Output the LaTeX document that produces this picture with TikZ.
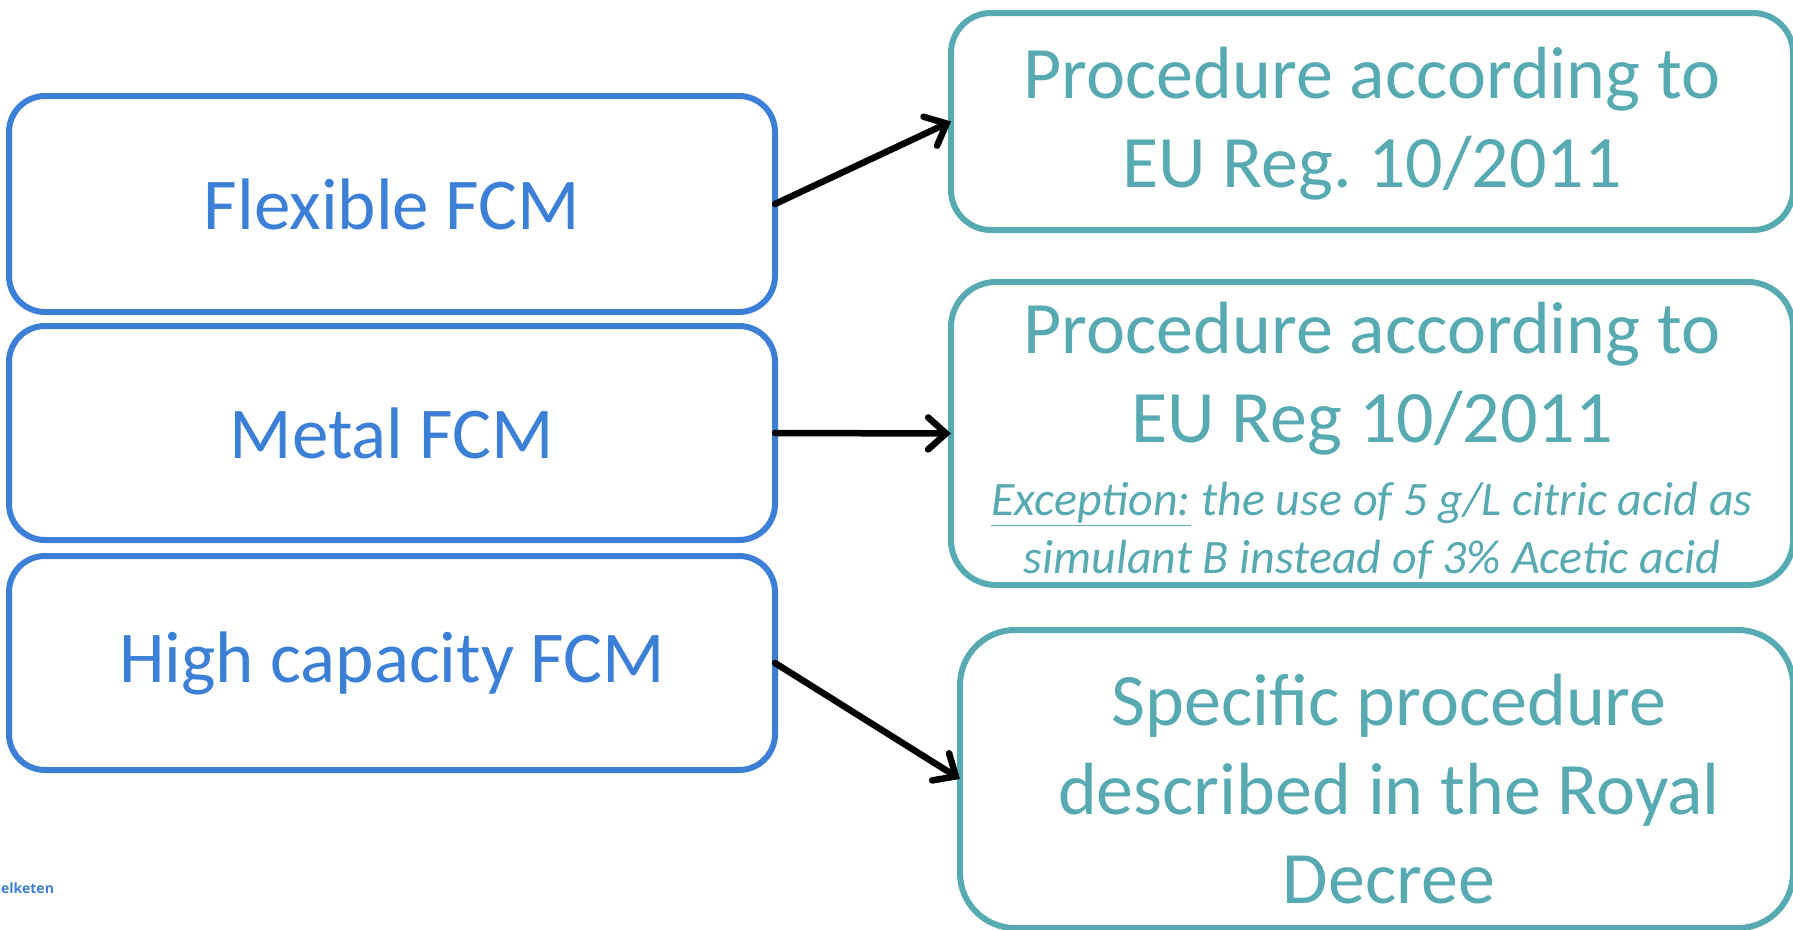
\documentclass[tikz,border=0pt]{standalone}
\usepackage{fontspec}
\setmainfont{Carlito}
\newfontfamily\logofont{Open Sans}
\usetikzlibrary{arrows.meta}
\definecolor{lblue}{RGB}{59,127,214}
\definecolor{tealc}{RGB}{87,170,178}
\frenchspacing
\begin{document}
\begin{tikzpicture}[x=1pt,y=-1pt,
  lbox/.style={draw=lblue, line width=6pt, rounded corners=36pt, text=lblue, align=center,
    inner sep=0pt, outer sep=0pt, minimum width=766pt,
    font=\fontsize{73}{89}\selectfont},
  rbox/.style={draw=tealc, line width=6pt, inner sep=0pt, outer sep=0pt},
  rtext/.style={text=tealc, align=center, inner sep=0pt, font=\fontsize{74}{89}\selectfont},
  ntext/.style={text=tealc, align=center, inner sep=0pt, font=\fontsize{48}{58}\selectfont\itshape},
  conn/.style={line width=6.5pt, line cap=round, -{Straight Barb[length=18pt,width=32pt,line cap=round]}}
]
\useasboundingbox (0,0) rectangle (1793,929);
\clip (0,0) rectangle (1793,929);
% left boxes
\node[lbox, minimum height=216pt] (l1) at (392,204) {Flexible FCM};
\node[lbox, minimum height=214pt] (l2) at (392,433) {Metal FCM};
\node[lbox, minimum height=214pt] (l3) at (392,663) {High capacity FCM};
% right boxes
\node[rbox, rounded corners=40pt, minimum width=842pt, minimum height=217pt] (r1) at (1372,121.5) {};
\node[rbox, rounded corners=45pt, minimum width=842pt, minimum height=303pt] (r2) at (1372,433.5) {};
\node[rbox, rounded corners=55pt, minimum width=833pt, minimum height=298pt] (r3) at (1376.5,779) {};
% right texts
\node[rtext] (r1t) at (1372,124) {Procedure according to\\EU Reg.\ 10/2011};
\node[rtext] (r2t) at (1372,379) {Procedure according to\\EU Reg 10/2011};
\node[ntext] (r2n) at (1372,531) {\underline{Exception:} the use of 5 g/L citric acid as\\simulant B instead of 3\% Acetic acid};
\node[rtext] (r3t) at (1389,789) {Specific procedure\\described in the Royal\\Decree};
% logo fragment
\node[text=lblue, inner sep=0pt, anchor=base west, font=\logofont\fontsize{14}{17}\selectfont\bfseries] (logo) at (1,893) {elketen};
% connectors
\draw[conn] (l1.east) -- (r1.west);
\draw[conn] (l2.east) -- (r2.west);
\draw[conn] (l3.east) -- (r3.west);
\end{tikzpicture}
\end{document}
